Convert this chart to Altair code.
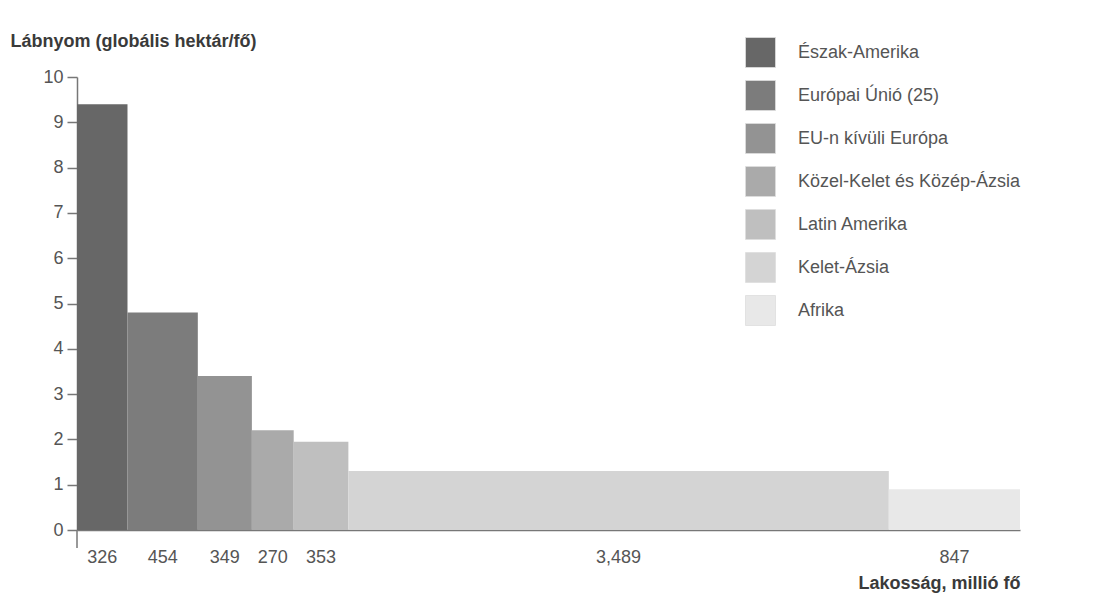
import altair as alt
import pandas as pd

regions = ["Észak-Amerika", "Európai Únió (25)", "EU-n kívüli Európa",
           "Közel-Kelet és Közép-Ázsia", "Latin Amerika", "Kelet-Ázsia", "Afrika"]
population = [326, 454, 349, 270, 353, 3489, 847]
footprint = [9.4, 4.8, 3.4, 2.2, 1.95, 1.3, 0.9]
pop_labels = ["326", "454", "349", "270", "353", "3,489", "847"]
colors = ["#676767", "#7c7c7c", "#939393", "#aaaaaa", "#bfbfbf", "#d4d4d4", "#e8e8e8"]

rows = []
start = 0
for r, p, f, lab in zip(regions, population, footprint, pop_labels):
    rows.append({"region": r, "x0": start, "x1": start + p, "mid": start + p / 2,
                 "fp": f, "zero": 0, "label": lab})
    start += p
df = pd.DataFrame(rows)
total = start

FONT = "Liberation Sans Narrow, Arial Narrow, Liberation Sans, sans-serif"
W, H = 943, 453

x_scale = alt.Scale(domain=[0, total], nice=False, zero=True)
y_scale = alt.Scale(domain=[0, 10], nice=False)

bars = alt.Chart(df).mark_rect().encode(
    x=alt.X("x0:Q", scale=x_scale,
            axis=alt.Axis(title="Lakosság, millió fő", labels=False, ticks=False, grid=False,
                          domainColor="#777777", domainWidth=1.5,
                          titleFont=FONT, titleFontSize=18, titleFontWeight="bold",
                          titleColor="#3a3a3a", titleAlign="right", titleAnchor="end",
                          titleX=W, titleY=58, titleBaseline="alphabetic")),
    x2="x1:Q",
    y=alt.Y("zero:Q", scale=y_scale,
            axis=alt.Axis(title="Lábnyom (globális hektár/fő)", values=list(range(0, 11)),
                          grid=False, tickSize=10, tickColor="#777777", tickWidth=1.5,
                          domainColor="#777777", domainWidth=1.5,
                          labelFont=FONT, labelFontSize=18, labelColor="#555555",
                          labelPadding=4,
                          titleFont=FONT, titleFontSize=18, titleFontWeight="bold",
                          titleColor="#3a3a3a", titleAngle=0, titleAlign="left",
                          titleX=-67, titleY=-31, titleBaseline="alphabetic")),
    y2="fp:Q",
    color=alt.Color("region:N", scale=alt.Scale(domain=regions, range=colors),
                    legend=alt.Legend(title=None, orient="none", legendX=668, legendY=-40,
                                      symbolType="square", symbolSize=900,
                                      symbolStrokeWidth=0.8, symbolStrokeColor="#dddddd",
                                      symbolOpacity=1,
                                      labelFont=FONT, labelFontSize=18, labelColor="#555555",
                                      labelOffset=22, rowPadding=8, labelLimit=400)),
)

labels = alt.Chart(df).mark_text(font=FONT, fontSize=18, color="#555555",
                                 baseline="middle").encode(
    x=alt.X("mid:Q", scale=x_scale),
    y=alt.value(H + 28),
    text="label:N",
)

yext = alt.Chart(df.head(1)).mark_rule(color="#777777", strokeWidth=1.5).encode(
    x=alt.value(0), y=alt.value(H), y2=alt.value(H + 18)
)

chart = alt.layer(bars, labels, yext).properties(
    width=W, height=H,
    autosize=alt.AutoSizeParams(type="none"),
    padding={"left": 77, "top": 77, "right": 90, "bottom": 79},
    background="white",
).configure_view(stroke=None)

chart.save("out.html", embed_options={"renderer": "svg", "actions": False})
